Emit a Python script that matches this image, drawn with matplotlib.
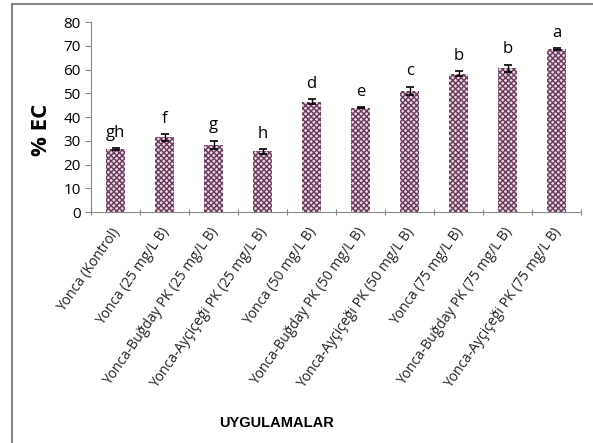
import numpy as np
import matplotlib.pyplot as plt
from matplotlib.lines import Line2D

categories = ["Yonca (Kontrol)", "Yonca (25 mg/L B)", "Yonca-Buğday PK (25 mg/L B)",
              "Yonca-Ayçiçeği PK (25 mg/L B)", "Yonca (50 mg/L B)", "Yonca-Buğday PK (50 mg/L B)",
              "Yonca-Ayçiçeği PK (50 mg/L B)", "Yonca (75 mg/L B)", "Yonca-Buğday PK (75 mg/L B)",
              "Yonca-Ayçiçeği PK (75 mg/L B)"]
values = [26.6, 31.5, 28.3, 25.5, 46.5, 44.0, 51.0, 58.2, 60.5, 68.5]
errors = [0.4, 1.5, 1.8, 1.0, 1.0, 0.3, 1.8, 1.0, 1.6, 0.4]
letters = ["gh", "f", "g", "h", "d", "e", "c", "b", "b", "a"]

plt.rcParams['font.family'] = ['Open Sans', 'DejaVu Sans']
plt.rcParams['hatch.linewidth'] = 1.0
plt.rcParams['hatch.color'] = '#6a3a5c'

fig = plt.figure(figsize=(5.93, 4.43), dpi=100)
ax = fig.add_axes([0.1535, 0.5214, 0.8265, 0.4289])

x = np.arange(len(categories))
ax.bar(x, values, width=0.4, color='#e6d8e0', hatch='xxxxxx', edgecolor='#6a3a5c', linewidth=0)
ax.errorbar(x, values, yerr=errors, fmt='none', ecolor='black', elinewidth=1, capsize=3, capthick=1.2)
for i in range(len(x)):
    ax.text(x[i], values[i] + errors[i] + 3, letters[i], ha='center', va='bottom', fontsize=12)

ax.set_xlim(-0.5, len(categories) - 0.5)
ax.set_ylim(0, 80)
ax.set_yticks(range(0, 81, 10))
ax.tick_params(axis='y', labelsize=11, length=4, color='#888888')
ax.set_xticks(np.arange(-0.5, len(categories), 1))
ax.set_xticklabels([])
ax.tick_params(axis='x', length=5, direction='inout', color='#888888')
for i in range(len(categories)):
    ax.text(x[i] - 0.1, -5.5, categories[i], rotation=55, ha='right', va='top',
            rotation_mode='anchor', fontsize=10, color='#222222')

for s in ['top', 'right']:
    ax.spines[s].set_visible(False)
ax.spines['left'].set_color('#888888')
ax.spines['bottom'].set_color('#888888')

ax.set_ylabel('% EC', fontsize=16, fontweight='bold')
ax.yaxis.set_label_coords(-0.08, 0.43)
fig.text(0.467, 0.045, 'UYGULAMALAR', ha='center', va='center', fontsize=10.5,
         fontweight='bold', family=['Liberation Sans', 'DejaVu Sans'])

fig.add_artist(Line2D([12/593, 12/593], [0, 1 - 4/443], color='#888888', lw=1.5))
fig.add_artist(Line2D([12/593, 1], [1 - 4/443, 1 - 4/443], color='#888888', lw=1.5))

fig.savefig('out.png', dpi=100)
